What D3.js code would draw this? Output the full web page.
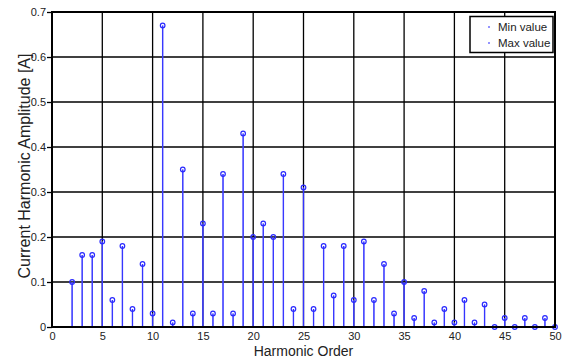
<!DOCTYPE html>
<html><head><meta charset="utf-8">
<script src="https://cdn.jsdelivr.net/npm/d3@7"></script>
<style>body{margin:0;background:#fff}svg{display:block}text{font-family:"Liberation Sans",Arial,sans-serif}</style>
</head><body><svg id="c" width="565" height="361"></svg>
<script>
const harmonicOrders = d3.range(2, 51);
const minValues = [0.10,0.16,0.16,0.19,0.06,0.18,0.04,0.14,0.03,0.67,0.01,0.35,0.03,0.23,0.03,0.34,0.03,0.43,0.20,0.23,0.20,0.34,0.04,0.31,0.04,0.18,0.07,0.18,0.06,0.19,0.06,0.14,0.03,0.10,0.02,0.08,0.01,0.04,0.01,0.06,0.01,0.05,0.00,0.02,0.00,0.02,0.00,0.02,0.00];
const maxValues = minValues.slice();
const xTicks = [0,5,10,15,20,25,30,35,40,45,50];
const yTicks = [0,0.1,0.2,0.3,0.4,0.5,0.6,0.7];
const seriesNames = ["Min value","Max value"];

const svg = d3.select("#c");
const L = 52, R = 555, T = 12, B = 327;
const x = d3.scaleLinear().domain([0,50]).range([L,R]);
const y = d3.scaleLinear().domain([0,0.7]).range([B,T]);

// grid
const g = svg.append("g");
g.selectAll("line.v").data(xTicks.slice(1,-1)).join("line")
  .attr("x1",d=>x(d)).attr("x2",d=>x(d)).attr("y1",T).attr("y2",B)
  .attr("stroke","#000").attr("stroke-width",1.3);
g.selectAll("line.h").data(yTicks.slice(1,-1)).join("line")
  .attr("y1",d=>y(d)).attr("y2",d=>y(d)).attr("x1",L).attr("x2",R)
  .attr("stroke","#000").attr("stroke-width",1.3);

// stems
const data = harmonicOrders.map((h,i)=>({h,min:minValues[i],max:maxValues[i]}));
const sg = svg.append("g");
sg.selectAll("line.max").data(data).join("line")
  .attr("x1",d=>x(d.h)).attr("x2",d=>x(d.h)).attr("y1",y(0)).attr("y2",d=>y(d.max))
  .attr("stroke","#5a5aff").attr("stroke-width",1.4);
sg.selectAll("line.min").data(data).join("line")
  .attr("x1",d=>x(d.h)).attr("x2",d=>x(d.h)).attr("y1",y(0)).attr("y2",d=>y(d.min))
  .attr("stroke","#2a2aff").attr("stroke-width",0.8);
sg.selectAll("circle.max").data(data).join("circle")
  .attr("cx",d=>x(d.h)).attr("cy",d=>y(d.max)).attr("r",2.3)
  .attr("fill","none").attr("stroke","#2a2aff").attr("stroke-width",1.2);

// frame
svg.append("rect").attr("x",L).attr("y",T).attr("width",R-L).attr("height",B-T)
  .attr("fill","none").attr("stroke","#000").attr("stroke-width",2);

// axes
const xa = svg.append("g").attr("transform",`translate(0,${B})`)
  .call(d3.axisBottom(x).tickValues(xTicks).tickSize(0).tickPadding(5).tickFormat(d3.format("d")));
xa.select(".domain").remove();
xa.selectAll("text").attr("font-size",11).attr("fill","#222").attr("font-family","Liberation Sans, Arial, sans-serif");
const ya = svg.append("g").attr("transform",`translate(${L},0)`)
  .call(d3.axisLeft(y).tickValues(yTicks).tickSize(5).tickPadding(1).tickFormat(d=>d===0?"0":d3.format(".1f")(d)));
ya.select(".domain").remove();
ya.selectAll("line").attr("stroke","#000").attr("stroke-width",1.3);
ya.selectAll("text").attr("font-size",11).attr("fill","#222").attr("font-family","Liberation Sans, Arial, sans-serif");

svg.append("text").attr("x",(L+R)/2).attr("y",356).attr("text-anchor","middle")
  .attr("font-size",14).attr("fill","#222").text("Harmonic Order");
svg.append("text").attr("transform",`translate(30,166) rotate(-90)`).attr("text-anchor","middle")
  .attr("font-size",16).attr("fill","#222").text("Current Harmonic Amplitude [A]");

// legend
const lg = svg.append("g");
lg.append("rect").attr("x",470).attr("y",16.5).attr("width",83).attr("height",36)
  .attr("fill","#fff").attr("stroke","#000").attr("stroke-width",1.5);
lg.selectAll("line").data(seriesNames).join("line")
  .attr("x1",488).attr("x2",490).attr("y1",(d,i)=>27+i*16).attr("y2",(d,i)=>27+i*16)
  .attr("stroke","#2a2aff").attr("stroke-width",1.2);
lg.selectAll("text").data(seriesNames).join("text")
  .attr("x",498).attr("y",(d,i)=>31+i*16).attr("font-size",11.5).attr("fill","#222").text(d=>d);
</script></body></html>
